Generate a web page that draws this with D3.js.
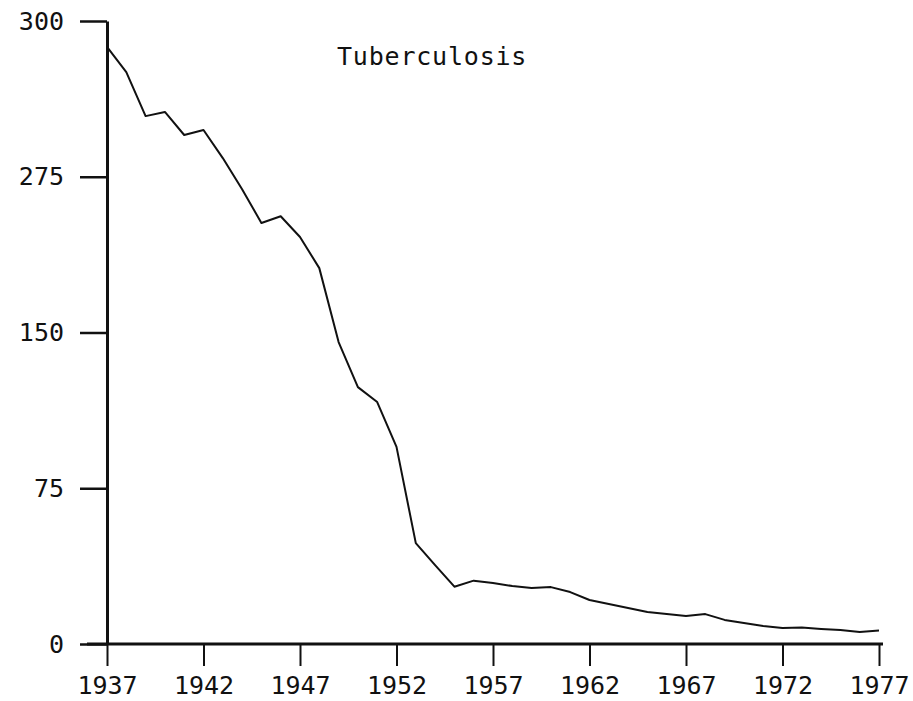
<!DOCTYPE html>
<html>
<head>
<meta charset="utf-8">
<script src="https://cdn.jsdelivr.net/npm/d3@7"></script>
<style>
  body { margin: 0; background: #fff; }
  text { font-family: "DejaVu Sans Mono", monospace; fill: #111; }
</style>
</head>
<body>
<svg id="chart" width="913" height="701"></svg>
<script>
// data
var years = d3.range(1937, 1978);
var rates = [287.5, 275.4, 254.2, 256.2, 245.1, 247.5, 234, 219, 202.7, 206,
             196, 181, 145.4, 123.7, 116.5, 94.9, 48.6, 38, 27.6, 30.5,
             29.4, 27.9, 27, 27.4, 25, 21.2, 19.3, 17.3, 15.4, 14.4,
             13.5, 14.4, 11.6, 10.1, 8.7, 7.7, 7.9, 7.2, 6.7, 5.8, 6.5];
var yTicks = [0, 75, 150, 225, 300];
var yTickLabels = ["0", "75", "150", "275", "300"];
var xTicks = [1937, 1942, 1947, 1952, 1957, 1962, 1967, 1972, 1977];
var title = "Tuberculosis";

var svg = d3.select("#chart");

var xScale = d3.scaleLinear().domain([1937, 1977]).range([107, 879]);
var yScale = d3.scaleLinear().domain([0, 300]).range([644, 21]);

// y axis
var yAxis = d3.axisLeft(yScale)
    .tickValues(yTicks)
    .tickFormat(function(d, i){ return yTickLabels[i]; })
    .tickSize(27)
    .tickSizeOuter(0)
    .tickPadding(16);

var yg = svg.append("g").attr("transform", "translate(107,0)").call(yAxis);
yg.select(".domain").attr("stroke", "#111").attr("stroke-width", 3);
yg.selectAll(".tick line").attr("stroke", "#111").attr("stroke-width", 2.5);
yg.selectAll(".tick text").style("font-size", "25px").attr("fill", "#111");

// x axis
var xAxis = d3.axisBottom(xScale)
    .tickValues(xTicks)
    .tickFormat(d3.format("d"))
    .tickSize(22)
    .tickSizeOuter(0)
    .tickPadding(10);

var xg = svg.append("g").attr("transform", "translate(0,644)").call(xAxis);
xg.select(".domain").remove();
xg.insert("line", ":first-child")
    .attr("x1", 87).attr("x2", 883)
    .attr("y1", 0).attr("y2", 0)
    .attr("stroke", "#111").attr("stroke-width", 3);
xg.selectAll(".tick line").attr("stroke", "#111").attr("stroke-width", 2);
xg.selectAll(".tick text").style("font-size", "25px").attr("fill", "#111");

// the series
var points = years.map(function(y, i){ return { x: y, y: rates[i] }; });

var line = d3.line()
    .x(function(p){ return xScale(p.x); })
    .y(function(p){ return yScale(p.y); });

svg.append("path")
    .datum(points)
    .attr("d", line)
    .attr("fill", "none")
    .attr("stroke", "#111")
    .attr("stroke-width", 2)
    .attr("stroke-linejoin", "round");

svg.append("text")
    .attr("x", 337)
    .attr("y", 65)
    .style("font-size", "25px")
    .style("letter-spacing", "0.8px")
    .text(title);
</script>
</body>
</html>
